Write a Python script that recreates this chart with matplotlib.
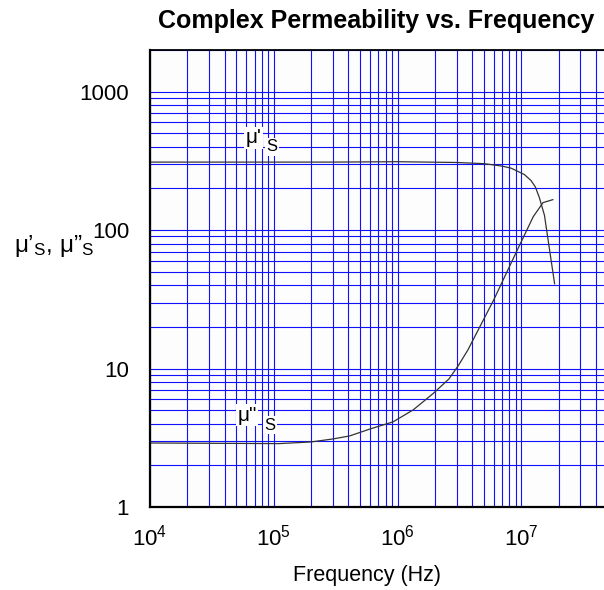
import numpy as np
import matplotlib
matplotlib.use('Agg')
import matplotlib.pyplot as plt
from matplotlib.ticker import LogLocator, NullFormatter, FixedLocator

plt.rcParams['font.family'] = ['Liberation Sans', 'DejaVu Sans']
plt.rcParams['mathtext.fontset'] = 'custom'
plt.rcParams['mathtext.rm'] = 'Liberation Sans'
plt.rcParams['mathtext.it'] = 'Liberation Sans:italic'

f_real = [1e4, 3e4, 1e5, 3e5, 1e6, 3e6, 5e6, 7e6, 8.3e6, 1.06e7, 1.2e7, 1.3e7, 1.4e7, 1.54e7, 1.69e7, 1.86e7]
mu_real = [310, 310, 310, 310, 312, 308, 302, 290, 280, 252, 228, 205, 172, 128, 73, 41]

# mu'' (imaginary part)
f_imag = [1e4, 5e4, 1.1e5, 2e5, 3e5, 4.1e5, 6e5, 9.2e5, 1.34e6, 1.94e6, 2.6e6, 3.1e6, 3.7e6,
          6e6, 9.3e6, 1.25e7, 1.5e7, 1.8e7]
mu_imag = [2.9, 2.88, 2.87, 2.95, 3.1, 3.26, 3.66, 4.12, 5.03, 6.6, 8.4, 10.5, 13.6,
           31.4, 72, 125, 158, 166]

xtick_vals = [1e4, 1e5, 1e6, 1e7]
xtick_labels = ['$\\mathregular{10^4}$', '$\\mathregular{10^5}$', '$\\mathregular{10^6}$', '$\\mathregular{10^7}$']
ytick_vals = [1, 10, 100, 1000]
ytick_labels = ['1', '10', '100', '1000']

fig = plt.figure(figsize=(6.04, 5.90), dpi=100)
ax = fig.add_axes([150/604, 83/590, 495/604, 457/590])
ax.set_facecolor('#fdfdfd')

ax.set_xscale('log')
ax.set_yscale('log')
ax.set_xlim(1e4, 1e8)
ax.set_ylim(1, 2000)

ax.xaxis.set_major_locator(FixedLocator(xtick_vals))
ax.set_xticklabels(xtick_labels)
ax.xaxis.set_minor_locator(LogLocator(base=10, subs=np.arange(2, 10)))
ax.xaxis.set_minor_formatter(NullFormatter())
ax.yaxis.set_major_locator(FixedLocator(ytick_vals))
ax.set_yticklabels(ytick_labels)
ax.yaxis.set_minor_locator(LogLocator(base=10, subs=np.arange(2, 10)))
ax.yaxis.set_minor_formatter(NullFormatter())

ax.grid(True, which='both', color='#1010ff', linewidth=0.8)
ax.set_axisbelow(True)
ax.tick_params(which='both', length=0)
ax.tick_params(axis='x', labelsize=16, pad=13)
ax.tick_params(axis='y', labelsize=16, pad=15)

for s in ['left', 'bottom']:
    ax.spines[s].set_linewidth(1.6)
ax.spines['top'].set_linewidth(1.3)

ax.plot(f_real, mu_real, color='#333333', linewidth=0.9)
ax.plot(f_imag, mu_imag, color='#333333', linewidth=0.9)

# curve labels
ax.text(5.9e4, 466, "μ'", fontsize=15, ha='left', va='center',
        bbox=dict(facecolor='white', edgecolor='none', pad=1))
ax.text(8.7e4, 400, 'S', fontsize=12, ha='left', va='center',
        bbox=dict(facecolor='white', edgecolor='none', pad=1))
ax.text(5.1e4, 4.6, 'μ"', fontsize=15, ha='left', va='center',
        bbox=dict(facecolor='white', edgecolor='none', pad=1))
ax.text(8.4e4, 3.9, 'S', fontsize=12, ha='left', va='center',
        bbox=dict(facecolor='white', edgecolor='none', pad=1))

fig.text(376/604, 1 - 21/590, 'Complex Permeability vs. Frequency', fontsize=18,
         fontweight='bold', ha='center', va='center')
fig.text(367/604, 1 - 576/590, 'Frequency (Hz)', fontsize=15.5, ha='center', va='center')
fig.text(14/604, 1 - 246/590, 'μ’$_\\mathregular{S}$, μ”$_\\mathregular{S}$', fontsize=17.5,
         ha='left', va='center')

fig.savefig('out.png', dpi=100)
